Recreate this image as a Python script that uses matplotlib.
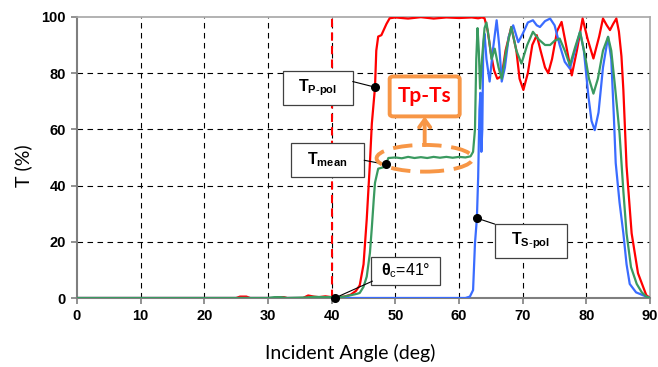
import numpy as np
import matplotlib.pyplot as plt
from matplotlib.patches import Rectangle, Ellipse, FancyBboxPatch

plt.rcParams['mathtext.fontset'] = 'custom'
plt.rcParams['mathtext.rm'] = 'Liberation Sans'
plt.rcParams['mathtext.bf'] = 'Liberation Sans:bold'
plt.rcParams['mathtext.it'] = 'Liberation Sans:italic'

# transmission vs incident angle
angle_p = [0, 25, 25.6, 26.6, 27.2, 31, 31.5, 32.5, 33, 35.5, 36.3, 37.2, 38, 39, 40, 41, 42, 43,
           43.8, 44.4, 45, 45.5, 46, 46.3, 46.8, 47.0, 47.3, 47.8, 48.1, 48.6, 49.1, 50, 52, 54,
           56, 58, 60, 62, 63, 63.6, 64.0, 64.5, 65.0, 65.5, 66.0, 66.7, 67.3, 68.2, 69.0, 69.5,
           70.1, 70.8, 71.5, 72.2, 72.8, 73.5, 74.0, 74.6, 75.4, 76.1, 76.8, 77.7, 78.5, 79.4,
           80.2, 81.1, 82.0, 82.6, 83.2, 83.7, 84.2, 84.7, 85.1, 85.5, 85.8, 86.3, 87.1, 88.1, 89.4, 90]
t_p = [0, 0, 0.5, 0.5, 0, 0, 0.3, 0.3, 0, 0, 0.9, 0.5, 0.3, 0.6, 0.3, 0.3, 0.5, 1.2,
       2.5, 4.5, 12, 28, 48, 62, 75, 88, 93, 93.5, 95, 97.5, 99.5, 99.8, 99.4, 99.9,
       99.4, 99.8, 99.6, 99.8, 99.5, 99.8, 99.5, 95, 87, 81, 78, 79, 88, 96.4, 88, 78,
       74, 80, 90, 93.5, 88, 82, 80, 85, 95, 98.2, 90, 79.2, 88, 99.4,
       92, 85.2, 93, 99.4, 97, 95.3, 97.5, 99.4, 94.8, 86, 74, 47, 23, 8.8, 1, 0]

angle_mean = [0, 30, 31, 32, 33, 36, 37, 40, 41, 42, 43, 44, 44.4, 45, 45.5, 46, 46.3, 46.6,
              46.8, 47.3, 48.1, 48.5, 48.9, 50, 51, 52, 53, 54, 55, 56, 57, 58, 59, 60, 61,
              61.8, 62.2, 62.5, 62.7, 62.9, 63.1, 63.3, 63.6, 64.0, 64.3, 64.7, 65.1, 65.6,
              66.2, 66.7, 67.4, 68.2, 69.0, 69.8, 70.7, 71.6, 72.5, 73.5, 74.3, 75.0, 75.8,
              76.6, 77.4, 78.2, 79.0, 79.8, 80.4, 81.1, 81.8, 82.6, 83.4, 83.9, 84.5, 85.2,
              85.8, 86.3, 87.0, 87.9, 88.7, 89.4, 90]
t_mean = [0, 0, 0.3, 0.3, 0, 0.2, 0.4, 0.3, 0.3, 0.5, 1, 1.5, 1.8, 4, 7.6, 16, 25, 35,
          41, 46, 46.5, 47.5, 49.8, 50, 49.7, 50.2, 49.8, 50.1, 49.8, 50.2, 49.9, 50.2, 49.9, 50.2, 50,
          50.4, 52, 60, 85, 96, 88, 74.5, 85, 96, 98, 92, 85, 88.7,
          82, 78, 88, 96.4, 88, 83.4, 90, 94.7, 92, 90, 90, 91.5, 92.3,
          88, 82.8, 89, 94.7, 86, 78, 72.7, 78, 88, 92.9, 88, 75, 58.6,
          38, 23, 11, 5, 2, 0.5, 0]

angle_s = [0, 61, 61.7, 62.2, 62.5, 62.8, 63.0, 63.2, 63.35, 63.5, 63.65, 63.8, 64.0, 64.3,
           64.8, 65.3, 65.9, 66.3, 66.7, 67.2, 67.8, 68.5, 69.3, 70.0, 70.8, 71.6, 72.2, 72.7,
           73.5, 74.3, 75.0, 75.8, 76.6, 77.4, 78.2, 79.0, 79.6, 80.3, 80.8, 81.3, 81.9, 82.6,
           83.4, 83.9, 84.3, 84.6, 85.2, 85.8, 86.3, 86.8, 87.8, 89.4, 90]
t_s = [0, 0, 0.5, 2.8, 19.5, 28.4, 43, 67, 73, 52, 60, 90, 94, 85,
       77, 88, 98.8, 90, 77, 82, 93, 97, 91, 94, 98, 98.8, 97, 96.4,
       98.5, 99.4, 97, 90, 84, 81.6, 88, 94.7, 88, 72, 63, 59.7, 66, 82,
       92.9, 85, 65, 48, 34, 23, 12, 5, 2, 0.5, 0]

theta_c = 40
x_ticks = np.arange(0, 100, 10)
y_ticks = np.arange(0, 120, 20)

red = '#FF0000'
green = '#3A9A60'
blue = '#3A6CFF'
orange = '#F79646'

fig, ax = plt.subplots(figsize=(6.58, 3.67), dpi=100)
fig.subplots_adjust(left=0.117, right=0.988, top=0.954, bottom=0.188)

ax.plot(angle_p, t_p, color=red, lw=1.6, zorder=3)
ax.plot(angle_s, t_s, color=blue, lw=1.6, zorder=3)
ax.plot(angle_mean, t_mean, color=green, lw=1.6, zorder=3)
ax.axvline(theta_c, color=red, lw=1.5, ls=(0, (4, 2.5)), zorder=2)

ax.set_xlim(0, 90)
ax.set_ylim(0, 100)
ax.set_xticks(x_ticks)
ax.set_yticks(y_ticks)
ax.grid(True, color='black', lw=0.8, ls=(0, (5, 4)))
ax.set_axisbelow(True)
for t in [ax.xaxis.get_major_ticks()[0], ax.xaxis.get_major_ticks()[-1],
          ax.yaxis.get_major_ticks()[0], ax.yaxis.get_major_ticks()[-1]]:
    t.gridline.set_visible(False)

for s in ['left', 'bottom']:
    ax.spines[s].set_color('#7F7F7F')
    ax.spines[s].set_linewidth(1.5)
for s in ['top', 'right']:
    ax.spines[s].set_color('#A6A6A6')
    ax.spines[s].set_linewidth(1.2)
ax.tick_params(direction='out', length=4, width=1.2, color='#7F7F7F', pad=4)
for lab in ax.get_xticklabels() + ax.get_yticklabels():
    lab.set_fontfamily('Liberation Sans')
    lab.set_fontweight('bold')
    lab.set_fontsize(10.5)

ax.set_xlabel('Incident Angle (deg)', fontfamily='Lato', fontsize=14)
ax.set_ylabel('T (%)', fontfamily='Lato', fontsize=14)
ax.xaxis.set_label_coords(0.476, -0.165)
ax.yaxis.set_label_coords(-0.078, 0.47)


def label_box(x0, x1, y0, y1, text, src, dot):
    ax.add_patch(Rectangle((x0, y0), x1 - x0, y1 - y0, facecolor='white',
                           edgecolor='#404040', lw=0.9, zorder=5))
    ax.text((x0 + x1) / 2, (y0 + y1) / 2, text, ha='center', va='center',
            fontsize=11.5, fontfamily='Liberation Sans', zorder=6)
    ax.annotate('', xy=dot, xytext=src,
                arrowprops=dict(arrowstyle='-', color='black', lw=0.8,
                                shrinkA=0, shrinkB=0), zorder=6)
    ax.plot(*dot, 'o', color='black', ms=5.5, zorder=7, clip_on=False)


p_dot = (46.8, np.interp(46.8, angle_p, t_p))
m_dot = (48.5, np.interp(48.5, angle_mean, t_mean))
s_dot = (62.8, np.interp(62.8, angle_s, t_s))
c_dot = (40.5, 0)

label_box(32.3, 43.3, 68.7, 80.8, r'$\mathbf{T}_{\mathbf{P}\text{-}\mathbf{pol}}$', (43.3, 77.0), p_dot)
label_box(33.6, 45.1, 43.1, 55.2, r'$\mathbf{T}_{\mathbf{mean}}$', (45.1, 49.0), m_dot)
label_box(46.2, 57.0, 4.6, 14.6, r'$\mathbf{θ}_{\mathrm{c}}$=41°', (46.4, 6.0), c_dot)
label_box(65.6, 76.9, 14.2, 26.3, r'$\mathbf{T}_{\mathbf{S}\text{-}\mathbf{pol}}$', (65.6, 26.3), s_dot)

# Tp-Ts highlight
ax.add_patch(FancyBboxPatch((49.1, 64.6), 11.0, 14.2, boxstyle='round,pad=0,rounding_size=0.6',
                            facecolor='white', edgecolor=orange, lw=2.8, zorder=5,
                            mutation_aspect=1.5))
ax.text(54.6, 71.7, 'Tp-Ts', color=red, fontsize=15, fontweight='bold',
        fontfamily='Lato', ha='center', va='center', zorder=6)
ax.annotate('', xy=(54.6, 64.6), xytext=(54.6, 54.4),
            arrowprops=dict(arrowstyle='->,head_length=0.55,head_width=0.4', color=orange,
                            lw=2.8, shrinkA=0, shrinkB=0), zorder=6)
ax.add_patch(Ellipse((54.6, 49.7), 15.1, 9.5, facecolor='none', edgecolor=orange,
                     lw=2.8, ls=(0, (5, 2.5)), zorder=6))

plt.savefig('out.png', dpi=100)
